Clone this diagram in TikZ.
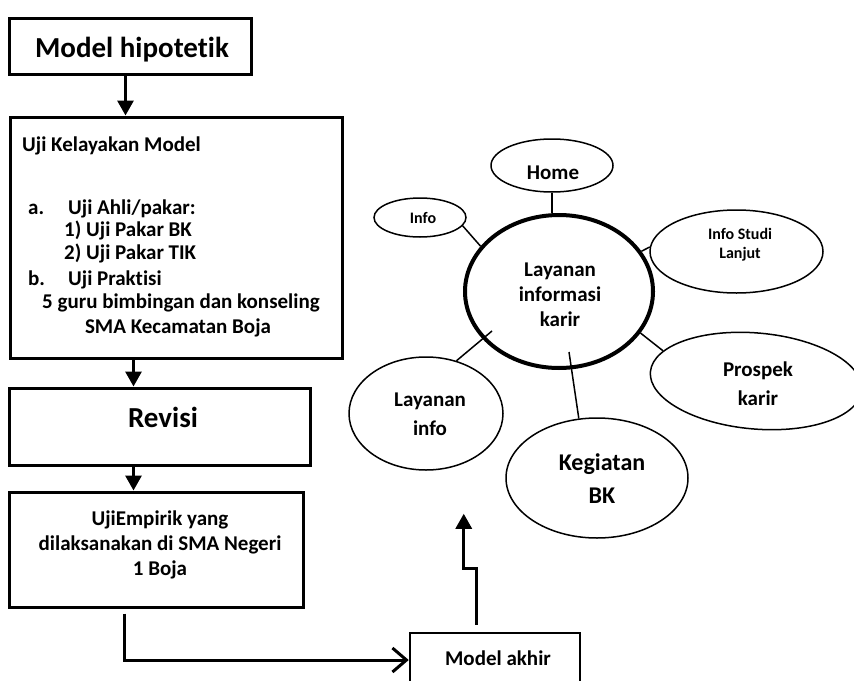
\documentclass[tikz,border=0pt]{standalone}
\usepackage{fontspec}
\setmainfont{Carlito}[Ligatures=NoCommon]
\usetikzlibrary{arrows.meta,calc,shapes.geometric}
\tikzset{
  box/.style={draw, line width=3pt, rectangle, inner sep=0pt},
  bub/.style={draw, line width=1.5pt, ellipse, inner sep=0pt},
  hub/.style={draw, line width=4pt, ellipse, inner sep=0pt},
  link/.style={line width=1.5pt},
  flow/.style={line width=3pt, -{Triangle[length=15pt,width=16pt]}},
  barbflow/.style={line width=3pt, -{Straight Barb[length=14pt,width=24pt]}},
  tb/.style={anchor=base, inner sep=0pt, font=\bfseries\fontsize{21}{25}\selectfont},
  tbw/.style={anchor=base west, inner sep=0pt, font=\bfseries\fontsize{21}{25}\selectfont},
  tbig/.style={anchor=base, inner sep=0pt, font=\bfseries\fontsize{29}{34}\selectfont},
  tsm/.style={anchor=base, inner sep=0pt, font=\bfseries\fontsize{16}{19}\selectfont},
  tkg/.style={anchor=base, inner sep=0pt, font=\bfseries\fontsize{24}{28}\selectfont},
}
\begin{document}
\begin{tikzpicture}[x=1pt, y=-1pt]
\useasboundingbox (0,0) rectangle (854,680);
% left flow boxes
\node[box, minimum width=242pt, minimum height=56pt] (mh) at (130,46) {};
\node[box, minimum width=332pt, minimum height=241pt] (uk) at (176,237.5) {};
\node[box, minimum width=301pt, minimum height=77pt] (rv) at (159.5,426.5) {};
\node[box, minimum width=294pt, minimum height=115pt] (emp) at (156,549.5) {};
\node[box, line width=2.5pt, minimum width=170pt, minimum height=54pt] (ma) at (495,660) {};

\node[tbig] (tmh) at (132,57) {Model hipotetik};
\node[tbw] (t1) at (22,151) {Uji Kelayakan Model};
\node[tbw] (t2a) at (28,214) {a.};
\node[tbw] (t2b) at (68,214) {Uji Ahli/pakar:};
\node[tbw] (t3a) at (64,236) {1)};
\node[tbw] (t3b) at (86,236) {Uji Pakar BK};
\node[tbw] (t4a) at (64,259) {2)};
\node[tbw] (t4b) at (86,259) {Uji Pakar TIK};
\node[tbw] (t5a) at (28,285) {b.};
\node[tbw] (t5b) at (68,285) {Uji Praktisi};
\node[tbw] (t6) at (42,308) {5 guru bimbingan dan konseling};
\node[tb] (t7) at (178,333) {SMA Kecamatan Boja};
\node[tbig] (trv) at (163,427) {Revisi};
\node[tb] (te1) at (160,525) {UjiEmpirik yang};
\node[tb] (te2) at (160,550) {dilaksanakan di SMA Negeri};
\node[tb] (te3) at (160,575) {1 Boja};
\node[tb] (tma) at (498,665) {Model akhir};

% flow arrows
\draw[flow] ($(mh.south west)+(118,0)$) -- ($(uk.north west)+(117,0)$);
\draw[flow] ($(uk.south west)+(125,0)$) -- ($(rv.north west)+(126,0)$);
\draw[flow] ($(rv.south west)+(126,0)$) -- ($(emp.north west)+(126,0)$);
\draw[barbflow] ($(emp.south west)+(117,5)$) |- (ma.west);

% ellipses
\node[hub, minimum width=188pt, minimum height=153pt] (c) at (559,291.5) {};
\node[bub, minimum width=122pt, minimum height=53pt] (home) at (552,165.5) {};
\node[bub, minimum width=92pt, minimum height=39pt] (info) at (420,217.5) {};
\node[bub, minimum width=173pt, minimum height=83pt] (isl) at (736.5,251.5) {};
\node[bub, rotate=-5, minimum width=212pt, minimum height=96pt] (pk) at (756,381) {};
\node[bub, minimum width=154pt, minimum height=113pt] (li) at (426,413.5) {};
\node[bub, minimum width=182pt, minimum height=120pt] (kb) at (597,478) {};

\node[tb] (tc1) at (560,276) {Layanan};
\node[tb] (tc2) at (560,301) {informasi};
\node[tb] (tc3) at (560,326) {karir};
\node[tb] (thome) at (553,179) {Home};
\node[tsm] (tinfo) at (423,223) {Info};
\node[tsm] (tisl1) at (740,239) {Info Studi};
\node[tsm] (tisl2) at (740,258) {Lanjut};
\node[tb] (tpk1) at (758,376) {Prospek};
\node[tb] (tpk2) at (758,405) {karir};
\node[tb] (tli1) at (430,406) {Layanan};
\node[tb] (tli2) at (430,435) {info};
\node[tkg] (tkb1) at (602,470) {Kegiatan};
\node[tkg] (tkb2) at (602,503) {BK};

% spokes
\coordinate (liin) at ($(c.center)+(-67,39.5)$);
\coordinate (kbin) at ($(c.center)+(10,60.5)$);
\draw[link] (home.south) -- (home.south |- c.north);
\draw[link] (info.-11) -- (c.150);
\draw[link] (isl.177) -- (c.26);
\draw[link] (pk.167) -- (c.-27);
\draw[link] (li.60) -- (liin);
\draw[link] (kb.107) -- (kbin);

% model akhir up to the diagram
\draw[flow] ($(ma.north west)+(68,-7)$) -- ++(0,-56) -- ++(-13,0) -- ++(0,-55);
\end{tikzpicture}
\end{document}
